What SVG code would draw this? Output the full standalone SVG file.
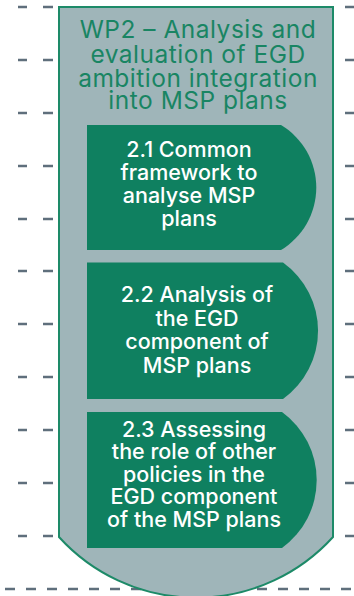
<svg xmlns="http://www.w3.org/2000/svg" width="354" height="596" viewBox="0 0 354 596">
<style>
.dash{stroke:#5f6f7c;stroke-width:2.6;fill:none}
.outer{fill:#9fb5b9;stroke:#1d8a68;stroke-width:2}
.box{fill:#0f8060}
.title{font-family:Inter,"Liberation Sans",sans-serif;font-size:24.5px;font-weight:400;letter-spacing:0.5px;fill:#198563;text-anchor:middle}
.lbl{font-family:Inter,"Liberation Sans",sans-serif;font-size:21.5px;font-weight:500;fill:#ffffff;text-anchor:middle}
</style>
<rect width="354" height="596" fill="#ffffff"/>
<g id="guides">
<path class="dash" d="M18,7H27M43,7H53M345,7H354
M18,60H27M43,60H53M345,60H354
M18,113H27M43,113H53M345,113H354
M18,166H27M43,166H53M345,166H354
M18,219H27M43,219H53M345,219H354
M18,271H27M43,271H53M345,271H354
M18,324H27M43,324H53M345,324H354
M18,377H27M43,377H53M345,377H354
M18,430H27M43,430H53M345,430H354
M18,483H27M43,483H53M345,483H354
M18,536H27M43,536H53M345,536H354"/>
<line class="dash" x1="5" y1="589" x2="354" y2="589" stroke-dasharray="10 11"/>
</g>
<g id="wp2">
<path class="outer" d="M59,7H333V537A185,185 0 0 1 59,537Z"/>
<text class="title"><tspan x="198" y="38.3">WP2 – Analysis and</tspan><tspan x="198" y="62.5">evaluation of EGD</tspan><tspan x="198" y="86.5">ambition integration</tspan><tspan x="198" y="108.5">into MSP plans</tspan></text>
</g>
<g id="task21">
<path class="box" d="M87,125H281A73,73 0 0 1 281,250H87Z"/>
<text class="lbl"><tspan x="189" y="156.7">2.1 Common</tspan><tspan x="189" y="180">framework to</tspan><tspan x="189" y="203">analyse MSP</tspan><tspan x="189" y="226">plans</tspan></text>
</g>
<g id="task22">
<path class="box" d="M87,262.5H283A84,84 0 0 1 283,399H87Z"/>
<text class="lbl"><tspan x="197" y="301.7">2.2 Analysis of</tspan><tspan x="197" y="325.7">the EGD</tspan><tspan x="197" y="349.3">component of</tspan><tspan x="197" y="373.3">MSP plans</tspan></text>
</g>
<g id="task23">
<path class="box" d="M87,412H282A84,84 0 0 1 282,548H87Z"/>
<text class="lbl"><tspan x="194" y="436.5">2.3 Assessing</tspan><tspan x="194" y="459">the role of other</tspan><tspan x="194" y="481.5">policies in the</tspan><tspan x="194" y="504">EGD component</tspan><tspan x="194" y="526.5">of the MSP plans</tspan></text>
</g>
</svg>
